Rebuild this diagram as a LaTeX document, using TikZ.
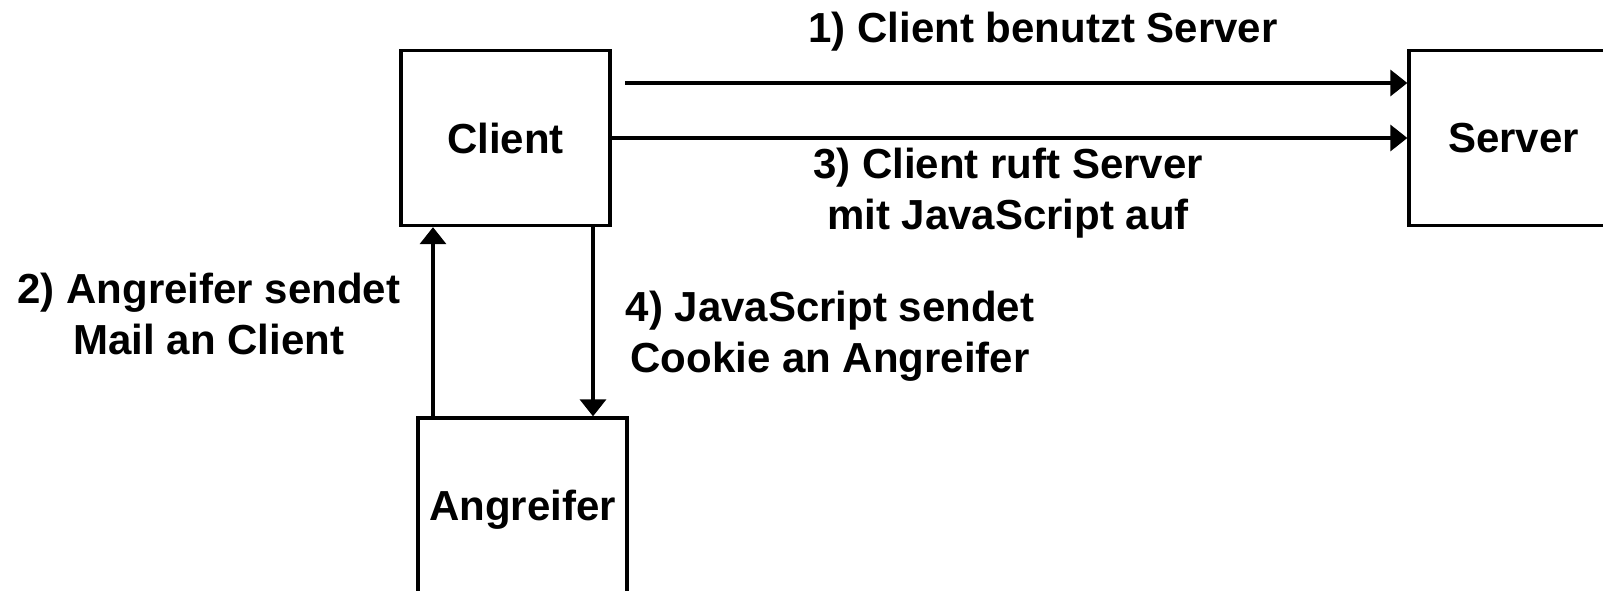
\documentclass[tikz,border=0pt]{standalone}
\usepackage{fontspec}
\setmainfont{Liberation Sans}
\usetikzlibrary{arrows.meta}
\begin{document}
\begin{tikzpicture}[x=1pt,y=-1pt,
  box/.style={draw, line width=3.3pt, minimum width=209pt, minimum height=175pt, inner sep=0pt, text depth=0pt, font=\fontsize{42}{51}\selectfont\bfseries},
  lbl/.style={align=center, inner sep=0pt, font=\fontsize{42}{51}\selectfont\bfseries},
  arr/.style={line width=3.3pt, -{Triangle[length=17pt,width=26pt]}}]
\useasboundingbox (0,0) rectangle (1603,591);
\node[box] (client) at (505.5,138) {Client};
\node[box] (server) at (1513.5,138) {Server};
\node[box] (angreifer) at (522.5,505.5) {Angreifer};
\coordinate (a1s) at (625,83);
\coordinate (u) at (433,0);
\coordinate (d) at (593,0);
\draw[arr] (a1s) -- (a1s -| server.west);
\draw[arr] (client.east) -- (server.west);
\draw[arr] (u |- angreifer.north) -- (u |- client.south);
\draw[arr] (d |- client.south) -- (d |- angreifer.north);
\node[lbl, anchor=base] (l1) at (1043,43) {1) Client benutzt Server};
\node[lbl] (l3) at (1008,193) {3) Client ruft Server\\mit JavaScript auf};
\node[lbl] (l2) at (209,314) {2) Angreifer sendet\\Mail an Client};
\node[lbl] (l4) at (830,336) {4) JavaScript sendet\\Cookie an Angreifer};
\end{tikzpicture}
\end{document}
